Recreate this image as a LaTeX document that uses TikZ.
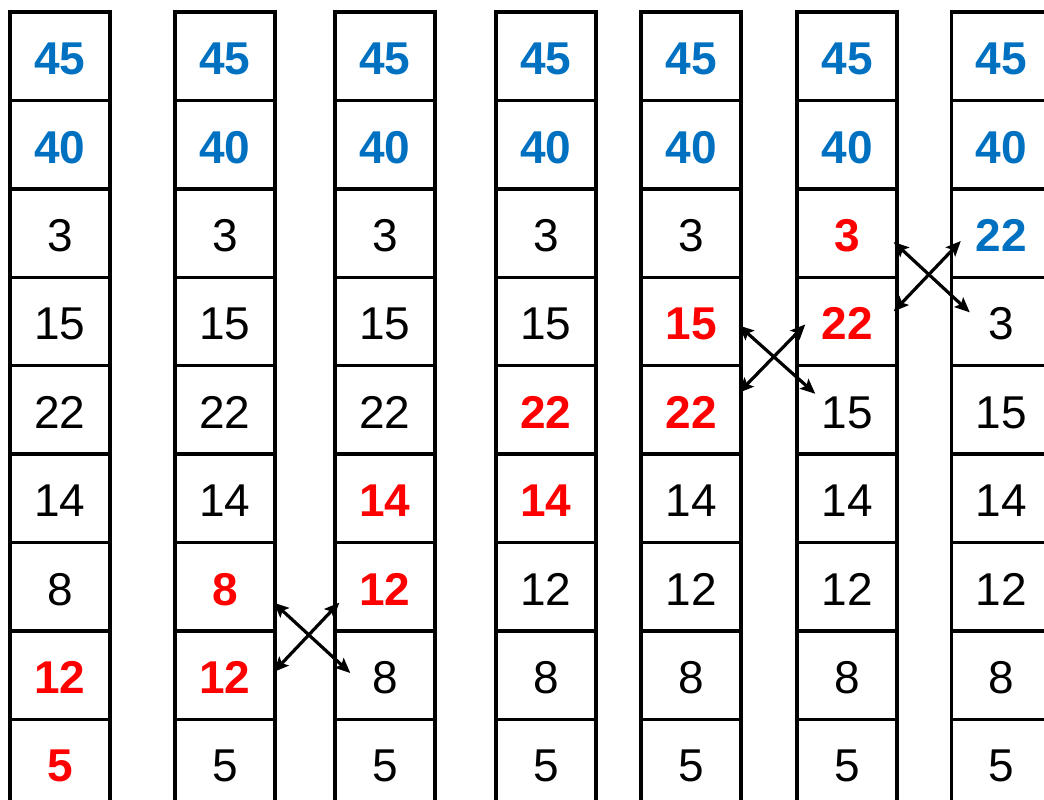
\documentclass[tikz,border=0pt]{standalone}
\usepackage{fontspec}
\setmainfont{Liberation Sans}
\usetikzlibrary{calc, arrows.meta}

\definecolor{sortblue}{RGB}{0,112,192}
\definecolor{cmpred}{RGB}{255,0,0}

\begin{document}
\begin{tikzpicture}[
    x=1pt, y=-1pt,
    cell/.style={
        draw=black,
        line width=3.4pt,
        rectangle,
        inner sep=0pt,
        minimum width=100pt,
        minimum height=88.4pt,
        text height=37pt, text depth=0pt,
        font=\fontsize{46}{50}\selectfont
    },
    plain/.style={text=black},
    sorted/.style={text=sortblue, font=\fontsize{46}{50}\selectfont\bfseries},
    cmp/.style={text=cmpred, font=\fontsize{46}{50}\selectfont\bfseries},
    swaparrow/.style={
        {Stealth[length=15pt, width=13pt, inset=3pt]}-{Stealth[length=15pt, width=13pt, inset=3pt]},
        line width=3.2pt
    }
]

\clip (0,0) rectangle (1044,800);

% parameters
\def\h{88.4}
\def\top{12}

% the seven passes, one column each
\foreach \xl/\cells [count=\c] in {
    10/{sorted/45,sorted/40,plain/3,plain/15,plain/22,plain/14,plain/8,cmp/12,cmp/5},
    175/{sorted/45,sorted/40,plain/3,plain/15,plain/22,plain/14,cmp/8,cmp/12,plain/5},
    335/{sorted/45,sorted/40,plain/3,plain/15,plain/22,cmp/14,cmp/12,plain/8,plain/5},
    496/{sorted/45,sorted/40,plain/3,plain/15,cmp/22,cmp/14,plain/12,plain/8,plain/5},
    641/{sorted/45,sorted/40,plain/3,cmp/15,cmp/22,plain/14,plain/12,plain/8,plain/5},
    797/{sorted/45,sorted/40,cmp/3,cmp/22,plain/15,plain/14,plain/12,plain/8,plain/5},
    951.5/{sorted/45,sorted/40,sorted/22,plain/3,plain/15,plain/14,plain/12,plain/8,plain/5}}{
  \foreach \s/\v [count=\r] in \cells {
    \node[cell, \s] (c\c r\r) at (\xl+50, \top+\h*\r-0.5*\h) {\v};
  }
}

% swaps
\draw[swaparrow] ($(c2r7.east)+(-3,16)$) -- ($(c3r8.west)+(17,-2)$);
\draw[swaparrow] ($(c2r8.east)+(-3,-3)$) -- ($(c3r7.west)+(6,16)$);

\draw[swaparrow] ($(c5r4.east)+(-4,4)$) -- ($(c6r5.west)+(20,-16)$);
\draw[swaparrow] ($(c5r5.east)+(-4,-17)$) -- ($(c6r4.west)+(10,3)$);

\draw[swaparrow] ($(c6r3.east)+(-5,9)$) -- ($(c7r4.west)+(20,-9)$);
\draw[swaparrow] ($(c6r4.east)+(-5,-10)$) -- ($(c7r3.west)+(11,8)$);

\end{tikzpicture}
\end{document}
